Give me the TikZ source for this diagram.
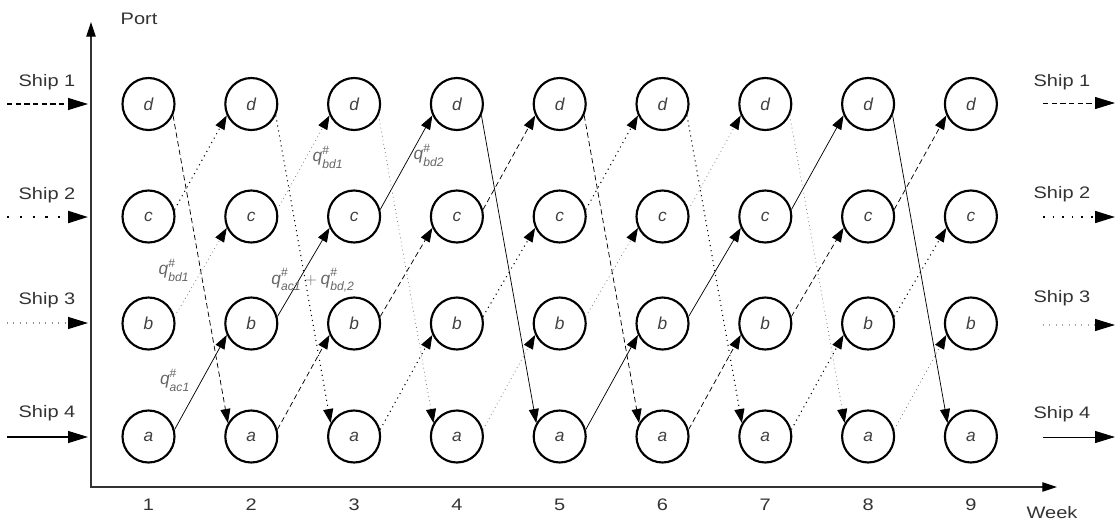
\documentclass[tikz,border=0pt]{standalone}
\usepackage{fontspec}
\setmainfont{Liberation Sans}
\usepackage{amsmath}
\usetikzlibrary{arrows.meta}
\newcommand{\wtxt}[1]{\scalebox{1.2}[1]{#1}}
\newcommand{\qq}[1]{\textit{q}^{\raisebox{1.5pt}{$\scriptstyle\#$}}_{\raisebox{-1.5pt}{$\scriptstyle\textit{#1}$}}}
\begin{document}
\begin{tikzpicture}[x=0.75pt,y=-0.75pt,
  port/.style={circle,draw,line width=1.6pt,minimum size=39pt,inner sep=0pt,
    font=\itshape\fontsize{13}{15}\selectfont,text=black!75},
  conn/.style={line width=0.55pt,-{Triangle[length=10.5pt,width=7.5pt,color=black,fill=black]}},
  ship1/.style={dash pattern=on 4pt off 2.5pt},
  ship2/.style={dash pattern=on 0.8pt off 3pt,line width=0.8pt},
  ship3/.style={dash pattern=on 0.6pt off 2.5pt,black!55},
  ship0/.style={},
  legarrow/.style={line width=0.9pt,-{Triangle[length=15pt,width=9pt,color=black,fill=black]}},
  lbl/.style={font=\fontsize{12.5}{14}\selectfont,text=black!80},
  qlbl/.style={font=\fontsize{13}{15}\selectfont,text=black!60,inner sep=1pt},
  axisline/.style={line width=0.9pt,black!80}
]
\useasboundingbox (0,0) rectangle (1115,522);

% axes
\coordinate (O) at (91,487);
\coordinate (ytip) at (91,22);
\coordinate (xtip) at (1057,487);
\draw[axisline,{Triangle[length=11pt,width=7pt,color=black,fill=black]}-{Triangle[length=11pt,width=7pt,color=black,fill=black]}] (ytip) -- (O) -- (xtip);
\node[lbl] (port) at (139,19) {\wtxt{Port}};
\node[lbl] (week) at (1052,513) {\wtxt{Week}};

% port nodes
\foreach \k in {1,...,9} {
  \pgfmathsetmacro{\xx}{148.5+102.8*(\k-1)}
  \node[port] (d\k) at (\xx,104) {d};
  \node[port] (c\k) at (\xx,216.5) {c};
  \node[port] (b\k) at (\xx,323.5) {b};
  \node[port] (a\k) at (\xx,436.5) {a};
  \node[lbl] (w\k) at (\xx,505) {\wtxt{\k}};
}

% ship connectors
\foreach \k in {1,...,8} {
  \pgfmathtruncatemacro{\n}{\k+1}
  \foreach \p/\q/\i/\sa/\ta in {a/b/0/15/205, b/c/1/15/205, c/d/2/15/205, d/a/3/-25/150} {
    \pgfmathtruncatemacro{\s}{mod(3+\k-\i,4)}
    \draw[conn,ship\s] (\p\k.\sa) -- (\q\n.\ta);
  }
}

% legend left
\coordinate (L1s) at (7,104);   \coordinate (L1e) at (88,104);
\coordinate (L2s) at (7,217);   \coordinate (L2e) at (88,217);
\coordinate (L3s) at (7,323);   \coordinate (L3e) at (88,323);
\coordinate (L4s) at (7,437);   \coordinate (L4e) at (88,437);
\draw[legarrow,ship1,line width=0.9pt] (L1s) -- (L1e);
\draw[legarrow,dash pattern=on 1.6pt off 8pt,line width=1.6pt] (L2s) -- (L2e);
\draw[legarrow,dash pattern=on 0.8pt off 4pt,black!45] (L3s) -- (L3e);
\draw[legarrow] (L4s) -- (L4e);
\node[lbl] (s1l) at (47,82) {\wtxt{Ship 1}};
\node[lbl] (s2l) at (47,195) {\wtxt{Ship 2}};
\node[lbl] (s3l) at (47,300) {\wtxt{Ship 3}};
\node[lbl] (s4l) at (47,413) {\wtxt{Ship 4}};

% legend right
\coordinate (R1s) at (1043,103);  \coordinate (R1e) at (1115,103);
\coordinate (R2s) at (1043,217);  \coordinate (R2e) at (1115,217);
\coordinate (R3s) at (1043,325);  \coordinate (R3e) at (1115,325);
\coordinate (R4s) at (1043,437);  \coordinate (R4e) at (1115,437);
\draw[legarrow,ship1,line width=0.7pt] (R1s) -- (R1e);
\draw[legarrow,dash pattern=on 1.2pt off 6pt,line width=1.2pt] (R2s) -- (R2e);
\draw[legarrow,dash pattern=on 0.8pt off 4pt,black!35] (R3s) -- (R3e);
\draw[legarrow,line width=0.7pt] (R4s) -- (R4e);
\node[lbl] (s1r) at (1062,82) {\wtxt{Ship 1}};
\node[lbl] (s2r) at (1062,194) {\wtxt{Ship 2}};
\node[lbl] (s3r) at (1062,298) {\wtxt{Ship 3}};
\node[lbl] (s4r) at (1062,414) {\wtxt{Ship 4}};

% flow labels
\node[qlbl] (q1) at (174,270) {$\qq{bd1}$};
\node[qlbl] (q2) at (328,157) {$\qq{bd1}$};
\node[qlbl] (q3) at (429,155) {$\qq{bd2}$};
\node[qlbl] (q4) at (313,280) {$\qq{ac1}+\qq{bd,2}$};
\node[qlbl] (q5) at (175,380) {$\qq{ac1}$};
\end{tikzpicture}
\end{document}
